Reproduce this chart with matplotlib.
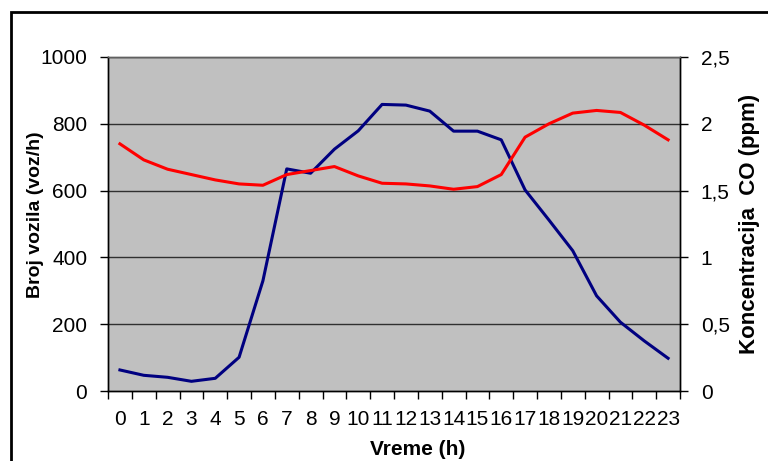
import matplotlib
matplotlib.use("Agg")
import matplotlib.pyplot as plt
from matplotlib.patches import Rectangle
import numpy as np

plt.rcParams["font.family"] = ["Liberation Sans", "DejaVu Sans"]

hours = [str(h) for h in range(24)]
vehicles = [63, 47, 41, 29, 38, 101, 330, 665, 652, 724, 779, 858,
            856, 838, 778, 778, 752, 602, 512, 420, 285, 206, 150, 98]
co_ppm = [1.85, 1.73, 1.66, 1.62, 1.58, 1.55, 1.54, 1.62, 1.65, 1.68, 1.61, 1.555,
          1.55, 1.535, 1.51, 1.53, 1.62, 1.90, 2.00, 2.08, 2.10, 2.085, 1.99, 1.88]
left_ticks = [0, 200, 400, 600, 800, 1000]
right_ticks = [0, 0.5, 1, 1.5, 2, 2.5]
right_labels = ["0", "0,5", "1", "1,5", "2", "2,5"]

fig = plt.figure(figsize=(7.68, 4.61), dpi=100)
ax = fig.add_axes([108/768, 1 - 391/461, 572/768, 334/461])
ax2 = ax.twinx()

x = np.arange(len(hours))
ax.set_facecolor("#C0C0C0")
ax.plot(x, vehicles, color="#000080", lw=2.2, zorder=3)
ax2.plot(x, co_ppm, color="#FF0000", lw=2.2, zorder=3)

ax.set_xlim(-0.5, 23.5)
ax.set_ylim(0, 1000)
ax2.set_ylim(0, 2.5)

ax.set_yticks(left_ticks)
ax.set_yticklabels([str(t) for t in left_ticks])
ax2.set_yticks(right_ticks)
ax2.set_yticklabels(right_labels)

# boundaries get tick marks, centres get labels
ax.set_xticks(np.arange(-0.5, 24, 1))
ax.set_xticklabels([])
ax.set_xticks(x, minor=True)
ax.set_xticklabels(hours, minor=True)
ax.tick_params(axis="x", which="major", direction="out", length=6, width=1)
ax.tick_params(axis="x", which="minor", length=0, pad=14, labelsize=15)
ax.tick_params(axis="y", direction="out", length=6, width=1, pad=9, labelsize=15)
ax2.tick_params(axis="y", direction="out", length=6, width=1, pad=9, labelsize=15)

for t in left_ticks[1:]:
    ax.axhline(t, color="#303030", lw=1, zorder=1)

for a in (ax, ax2):
    for s in a.spines.values():
        s.set_color("black")
        s.set_linewidth(1)
ax.spines["top"].set_color("#606060")
ax2.spines["top"].set_color("#606060")

fig.text(36/768, 1 - 215/461, "Broj vozila (voz/h)", rotation=90, ha="center", va="center",
         fontsize=14, fontweight="bold")
fig.text(749/768, 1 - 224/461, "Koncentracija  CO (ppm)", rotation=90, ha="center", va="center",
         fontsize=16, fontweight="bold")
fig.text(418/768, 1 - 449/461, "Vreme (h)", ha="center", va="center",
         fontsize=15, fontweight="bold")

fig.patches.append(Rectangle((11/768, -0.2), 1.2, 1.2 - 12/461, transform=fig.transFigure,
                             fill=False, edgecolor="black", lw=2, clip_on=False))

fig.savefig("out.png", dpi=100)
